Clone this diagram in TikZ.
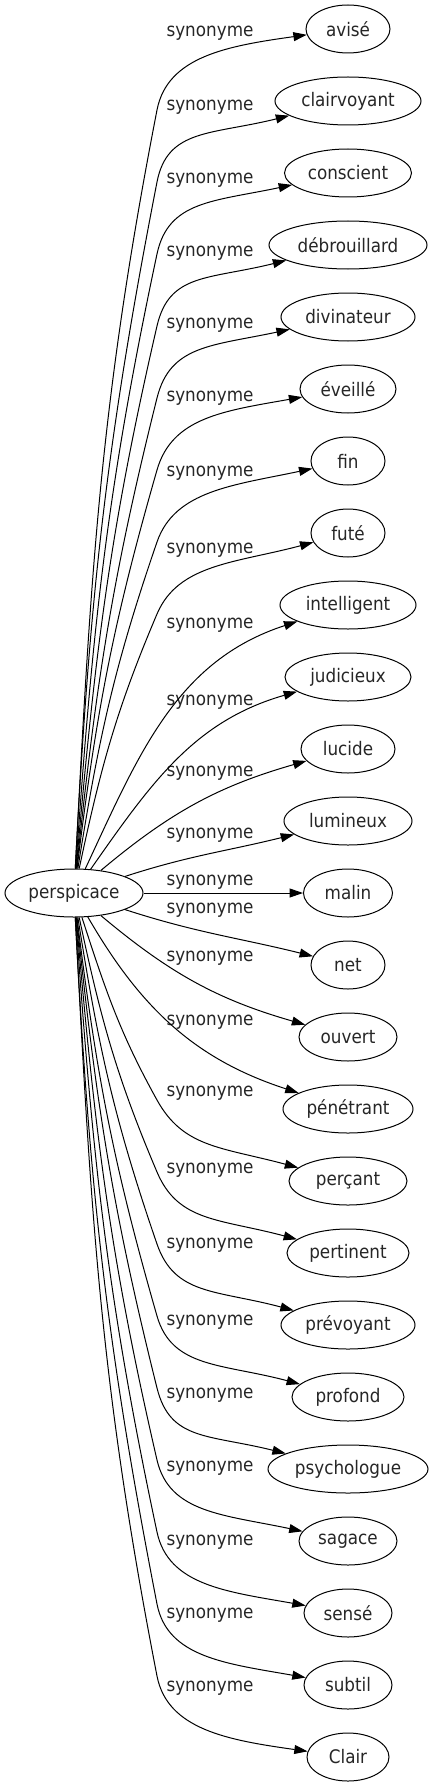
\documentclass[tikz,border=0pt]{standalone}
\usepackage{fontspec}
\setmainfont{DejaVu Sans}[FakeStretch=0.9]
\usetikzlibrary{arrows.meta,shapes.geometric}
\begin{document}
\begin{tikzpicture}[x=0.75pt,y=0.75pt,
  word/.style={draw, ellipse, line width=0.75pt, minimum height=36pt, inner sep=0pt,
    font=\fontsize{14pt}{16pt}\selectfont, text=black!85},
  lbl/.style={inner sep=0pt, font=\fontsize{14pt}{16pt}\selectfont, text=black!85},
  link/.style={line width=0.75pt, -{Triangle[length=10pt,width=6.7pt]}},
  sweep/.style={out distance=41pt, in distance=60pt}]
\useasboundingbox (0,0) rectangle (433,-1787);

\node[word, minimum width=103.5pt] (p) at (74,-893) {perspicace};

\foreach \i/\t/\w in {0/avisé/84, 1/clairvoyant/146, 2/conscient/127, 3/débrouillard/158,
  4/divinateur/134, 5/éveillé/96, 6/fin/74, 7/futé/74, 8/intelligent/136, 9/judicieux/126,
  10/lucide/94, 11/lumineux/128, 12/malin/89, 13/net/74, 14/ouvert/98, 15/pénétrant/130,
  16/perçant/118, 17/pertinent/122, 18/prévoyant/134, 19/profond/112, 20/psychologue/160,
  21/sagace/98, 22/sensé/88, 23/subtil/88, 24/Clair/82}
{
  \pgfmathsetmacro\yy{-(29+72*\i)}
  \node[word, minimum width=\w*0.75pt] (n\i) at (348,\yy) {\t};
}

\foreach \i/\ly in {0/33, 1/107, 2/180, 3/253, 4/325, 5/398, 6/473, 7/550, 8/625, 9/702,
  10/773, 11/835, 12/882, 13/910, 14/958, 15/1022, 16/1093, 17/1170, 18/1245, 19/1322,
  20/1395, 21/1468, 22/1542, 23/1615, 24/1688}
{
  \node[lbl] (l\i) at (210,-\ly) {synonyme};
}

% upper far edges: start angle / corner-in / corner-out / end-in
\foreach \i/\a/\ci/\co/\e in {0/87/259/79/188, 1/87/259/79/194, 2/86/258/78/192,
  3/85/257/77/194, 4/84/256/76/192, 5/83/254/74/190, 6/81/251/71/192, 7/78/247/67/195}
{
  \pgfmathsetmacro\cy{-(110+72*\i)}
  \coordinate (c\i) at (157,\cy);
  \draw[link] (p) to[out=\a,in=\ci] (c\i) to[out=\co,in=\e,sweep] (n\i);
}

% near edges
\draw[link] (p) to[out=65,in=198] (n8);
\draw[link] (p) to[out=55,in=196] (n9);
\draw[link] (p) to[out=40,in=196] (n10);
\draw[link] (p) to[out=18,in=194] (n11);
\draw[link] (p) -- (n12);
\draw[link] (p) to[out=-18,in=166] (n13);
\draw[link] (p) to[out=-40,in=164] (n14);
\draw[link] (p) to[out=-60,in=162] (n15);

% lower far edges
\foreach \i/\a/\ci/\co/\e in {16/-72/119/-61/165, 17/-78/113/-67/165, 18/-81/109/-71/165,
  19/-83/106/-74/165, 20/-84/104/-76/166, 21/-85/103/-77/168, 22/-86/102/-78/170,
  23/-87/101/-79/170, 24/-87/101/-79/172}
{
  \pgfmathsetmacro\cy{-(72*\i-52)}
  \coordinate (c\i) at (157,\cy);
  \draw[link] (p) to[out=\a,in=\ci] (c\i) to[out=\co,in=\e,sweep] (n\i);
}
\end{tikzpicture}
\end{document}
